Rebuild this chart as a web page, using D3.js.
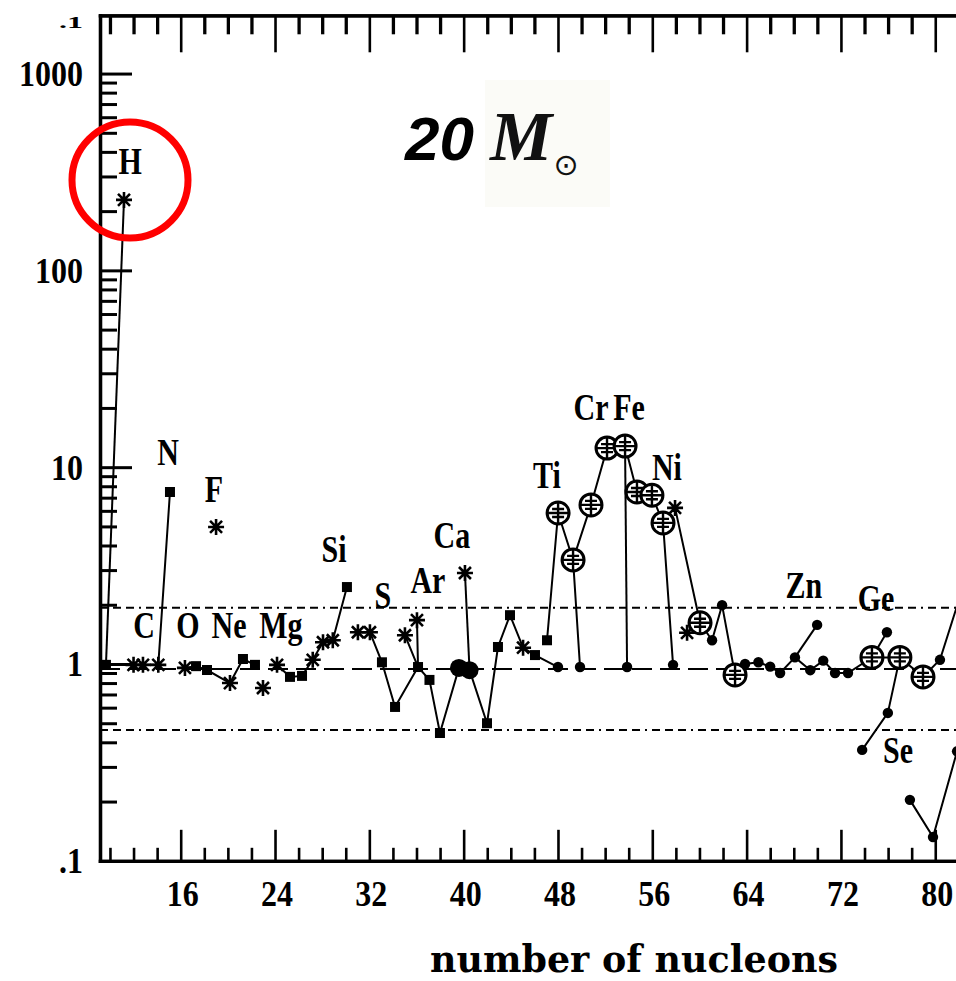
<!DOCTYPE html>
<html>
<head>
<meta charset="utf-8">
<script src="https://cdn.jsdelivr.net/npm/d3@7"></script>
<style>
  html, body { margin: 0; padding: 0; background: #fff; }
  svg { display: block; }
</style>
</head>
<body>
<svg id="chart" width="956" height="981"></svg>
<script>
// Isotopic production factors, 20 solar-mass model
const massNumber = [
  9.66, 11.19, 12.0, 12.8, 14.1, 15.09, 16.36, 17.3, 18.23, 19.0,
  20.18, 21.28, 22.3, 22.98, 24.17, 25.27, 26.29, 27.2, 28.07, 28.9,
  30.1, 31.03, 32.05, 33.07, 34.18, 35.02, 36.04, 36.13, 37.1, 37.99,
  39.6, 40.11, 40.5, 41.98, 42.91, 43.93, 45.04, 46.05, 47.07, 48.01,
  48.0, 49.28, 49.87, 50.8, 52.16, 53.69, 53.86, 54.7, 55.97, 56.91,
  57.76, 57.93, 58.95, 60.05, 61.07, 61.92, 63.02, 63.87, 65.0, 66.0,
  66.84, 68.1, 69.98, 69.4, 70.5, 71.5, 72.6, 74.63, 75.9, 77.0,
  75.98, 73.8, 78.96, 80.4, 82.3, 77.85, 79.81, 81.85, 82.2
];
const productionFactor = [
  0.99, 228, 0.99, 0.99, 0.99, 7.48, 0.955, 0.975, 0.932, 4.97,
  0.80, 1.06, 0.99, 0.755, 0.99, 0.86, 0.87, 1.05, 1.29, 1.32,
  2.46, 1.45, 1.45, 1.02, 0.605, 1.40, 1.67, 0.965, 0.83, 0.446,
  0.955, 2.90, 0.93, 0.50, 1.22, 1.77, 1.21, 1.11, 1.32, 5.85,
  0.965, 3.38, 0.965, 6.43, 12.5, 12.8, 0.965, 7.48, 7.2, 5.21,
  0.99, 6.21, 1.44, 1.62, 1.32, 1.99, 0.88, 1.00, 1.02, 0.97,
  0.90, 1.08, 1.58, 0.93, 1.04, 0.90, 0.90, 1.08, 1.45, 1.08,
  0.564, 0.366, 0.86, 1.05, 2.4, 0.204, 0.132, 0.36, 2.0
];
// sq = filled square, dot = filled circle, big = large filled circle,
// ast = asterisk, oplus = open circle with cross
const markerKind = [
  "sq", "ast", "ast", "ast", "ast", "sq", "ast", "sq", "sq", "ast",
  "ast", "sq", "sq", "ast", "ast", "sq", "sq", "ast", "ast", "ast",
  "sq", "ast", "ast", "sq", "sq", "ast", "ast", "sq", "sq", "sq",
  "big", "ast", "big", "sq", "sq", "sq", "ast", "sq", "sq", "oplus",
  "dot", "oplus", "dot", "oplus", "oplus", "oplus", "dot", "oplus", "oplus", "oplus",
  "dot", "ast", "ast", "oplus", "dot", "dot", "oplus", "dot", "dot", "dot",
  "dot", "dot", "dot", "dot", "dot", "dot", "dot", "oplus", "dot", "oplus",
  "dot", "dot", "oplus", "dot", "dot", "dot", "dot", "dot", "dot"
];
// Point indices joined by connecting lines
const isotopeChains = [
  [1, 0], [0, 2, 3, 4, 5], [6, 7, 8, 10, 11, 12],
  [14, 15, 16, 17, 18, 19, 20], [21, 22, 23, 24, 27], [26, 27, 25],
  [27, 28, 29, 30, 32, 33, 34, 35, 36, 37, 40], [31, 32],
  [38, 39, 41, 42], [41, 43, 44, 45], [45, 46], [45, 47, 48, 49, 50],
  [51, 53, 54, 55, 56, 57, 58, 59, 60, 61, 63, 64, 65, 66, 67, 69, 72, 73, 74],
  [61, 62], [67, 68], [69, 70, 71], [75, 76, 77, 78]
];

const elementNames = ["H", "N", "F", "C", "O", "Ne", "Mg", "Si", "S", "Ar", "Ca",
                      "Ti", "Cr", "Fe", "Ni", "Zn", "Ge", "Se"];
const elementLabelA = [11.71, 14.92, 18.82, 12.89, 16.62, 20.1, 24.5, 29.0, 33.15, 36.97, 39.0,
                       47.06, 50.8, 54.02, 57.24, 68.86, 74.97, 76.84];
const elementLabelFactor = [309, 10.26, 6.66, 1.355, 1.355, 1.355, 1.355, 3.30, 1.93, 2.29, 3.88,
                            7.84, 17.4, 17.4, 8.61, 2.165, 1.86, 0.314];

const referenceLevels = [1.93, 0.943, 0.462];
const referenceDash = ["8,5,8,5,8,5,2,5", "20,8", "8,5,8,5,8,5,2,5"];

const xMajorTicks = [16, 24, 32, 40, 48, 56, 64, 72, 80];
const xMinorTicks = d3.range(10, 82, 2).filter(v => !xMajorTicks.includes(v));
const yMajorTicks = [1, 10, 100, 1000];
const yMinorTicks = [0.1, 1, 10, 100].flatMap(d => d3.range(2, 10).map(k => +(k * d).toPrecision(3)));
const yLabelValues = [1000, 100, 10, 1, 0.1];
const yLabelTexts = ["1000", "100", "10", "1", ".1"];
const yTopEdgeLabel = ".1";

const svg = d3.select("#chart");

const x = d3.scaleLinear().domain([9.155, 81.76]).range([100, 956]);
const y = d3.scaleLog().domain([0.1, 1977]).range([860.8, 15.3]);

const [plotLeft, plotRight] = x.range();
const [plotBottom, plotTop] = y.range();

const defs = svg.append("defs");
defs.append("clipPath").attr("id", "plotClip").append("rect")
  .attr("x", plotLeft).attr("y", plotTop)
  .attr("width", plotRight - plotLeft).attr("height", plotBottom - plotTop);

// faint panel behind the mass symbol
svg.append("rect").attr("x", 485).attr("y", 80).attr("width", 125).attr("height", 127)
  .attr("fill", "#fbfbf7");

// reference levels
svg.append("g").attr("clip-path", "url(#plotClip)")
  .selectAll("line").data(referenceLevels).join("line")
  .attr("x1", plotLeft).attr("x2", plotRight)
  .attr("y1", d => y(d)).attr("y2", d => y(d))
  .attr("stroke", "#000").attr("stroke-width", 2)
  .attr("stroke-dasharray", (d, i) => referenceDash[i]);

// axes
function styleAxis(g, tickWidth) {
  g.select(".domain").attr("stroke-width", 3.3).attr("stroke-linecap", "square");
  g.selectAll(".tick line").attr("stroke-width", tickWidth);
  g.selectAll(".tick text").remove();
}
svg.append("g").attr("transform", `translate(0,${plotBottom})`)
  .call(d3.axisBottom(x).tickValues(xMinorTicks).tickSizeInner(-13).tickSizeOuter(0).tickFormat(""))
  .call(g => styleAxis(g, 2.6));
svg.append("g").attr("transform", `translate(0,${plotBottom})`)
  .call(d3.axisBottom(x).tickValues(xMajorTicks).tickSizeInner(-31).tickSizeOuter(0).tickFormat(""))
  .call(g => styleAxis(g, 2.6));
svg.append("g").attr("transform", `translate(0,${plotTop})`)
  .call(d3.axisTop(x).tickValues(xMinorTicks).tickSizeInner(-19).tickSizeOuter(0).tickFormat(""))
  .call(g => styleAxis(g, 3.3));
svg.append("g").attr("transform", `translate(0,${plotTop})`)
  .call(d3.axisTop(x).tickValues(xMajorTicks).tickSizeInner(-37).tickSizeOuter(0).tickFormat(""))
  .call(g => styleAxis(g, 2.6));
svg.append("g").attr("transform", `translate(${plotLeft},0)`)
  .call(d3.axisLeft(y).tickValues(yMinorTicks).tickSizeInner(-17).tickSizeOuter(0).tickFormat(""))
  .call(g => styleAxis(g, 3));
svg.append("g").attr("transform", `translate(${plotLeft},0)`)
  .call(d3.axisLeft(y).tickValues(yMajorTicks).tickSizeInner(-32).tickSizeOuter(0).tickFormat(""))
  .call(g => styleAxis(g, 3));

// tick labels (tall bold serif)
const tickFont = "'Liberation Serif', 'Times New Roman', serif";
svg.append("g").selectAll("text").data(yLabelValues).join("text")
  .attr("transform", d => `translate(83,${y(d) + 12.4}) scale(1,1.15)`)
  .attr("text-anchor", "end")
  .attr("font-family", tickFont).attr("font-weight", "bold").attr("font-size", 32)
  .text((d, i) => yLabelTexts[i]);
// squat label at the top edge of the axis
svg.append("text")
  .attr("transform", `translate(83,${plotTop + 13}) scale(1,0.55)`)
  .attr("text-anchor", "end")
  .attr("font-family", tickFont).attr("font-weight", "bold").attr("font-size", 32)
  .text(yTopEdgeLabel);
svg.append("g").selectAll("text").data(xMajorTicks).join("text")
  .attr("transform", d => `translate(${x(d) + 2},906) scale(1,1.15)`)
  .attr("text-anchor", "middle")
  .attr("font-family", tickFont).attr("font-weight", "bold").attr("font-size", 32)
  .text(d => d);

// axis title
svg.append("text")
  .attr("x", 430).attr("y", 972)
  .attr("font-family", "'DejaVu Serif', serif").attr("font-weight", "bold").attr("font-size", 38)
  .attr("textLength", 408).attr("lengthAdjust", "spacingAndGlyphs")
  .text("number of nucleons");

// data
const pts = massNumber.map((a, i) => ({ a, f: productionFactor[i], kind: markerKind[i] }));
const plot = svg.append("g").attr("clip-path", "url(#plotClip)");

const line = d3.line().x(d => x(d.a)).y(d => y(d.f));
plot.append("g").selectAll("path").data(isotopeChains).join("path")
  .attr("d", c => line(c.map(i => pts[i])))
  .attr("fill", "none").attr("stroke", "#000").attr("stroke-width", 2);

const markG = plot.append("g");
const byKind = k => pts.filter(p => p.kind === k);

markG.selectAll("rect.sq").data(byKind("sq")).join("rect").attr("class", "sq")
  .attr("x", d => x(d.a) - 5).attr("y", d => y(d.f) - 5)
  .attr("width", 10).attr("height", 10).attr("fill", "#000");
markG.selectAll("circle.dot").data(byKind("dot")).join("circle").attr("class", "dot")
  .attr("cx", d => x(d.a)).attr("cy", d => y(d.f)).attr("r", 5.2).attr("fill", "#000");
markG.selectAll("circle.big").data(byKind("big")).join("circle").attr("class", "big")
  .attr("cx", d => x(d.a)).attr("cy", d => y(d.f)).attr("r", 9).attr("fill", "#000");
markG.selectAll("path.ast").data(byKind("ast")).join("path").attr("class", "ast")
  .attr("transform", d => `translate(${x(d.a)},${y(d.f)})`)
  .attr("d", "M-8,0H8M0,-8V8M-6,-6L6,6M-6,6L6,-6")
  .attr("fill", "none").attr("stroke", "#000").attr("stroke-width", 2.6);
const oplus = markG.selectAll("g.oplus").data(byKind("oplus")).join("g").attr("class", "oplus")
  .attr("transform", d => `translate(${x(d.a)},${y(d.f)})`);
oplus.append("circle").attr("r", 11).attr("fill", "#fff").attr("stroke", "#000").attr("stroke-width", 3);
oplus.append("path").attr("d", "M-10,0H10M0,-10V10M-6,-4H6M-6,4H6")
  .attr("stroke", "#000").attr("stroke-width", 2.4);

// element labels
svg.append("g").selectAll("text").data(elementNames).join("text")
  .attr("transform", (d, i) => `translate(${x(elementLabelA[i])},${y(elementLabelFactor[i])}) scale(1,1.25)`)
  .attr("text-anchor", "middle")
  .attr("font-family", tickFont).attr("font-weight", "bold").attr("font-size", 30)
  .text(d => d);

// stellar mass annotation
svg.append("text").attr("x", 405).attr("y", 160)
  .attr("font-family", "'Liberation Sans', Arial, sans-serif").attr("font-weight", "bold")
  .attr("font-style", "italic").attr("font-size", 62).text("20");
svg.append("text").attr("x", 490).attr("y", 160)
  .attr("font-family", "'Liberation Serif', 'Times New Roman', serif").attr("font-weight", "bold")
  .attr("font-style", "italic").attr("font-size", 70).attr("fill", "#111").text("M");
svg.append("text").attr("x", 566).attr("y", 175)
  .attr("text-anchor", "middle")
  .attr("font-family", "'DejaVu Sans', sans-serif").attr("font-size", 30).attr("fill", "#111").text("⊙");

// highlight ring around hydrogen
svg.append("circle").attr("cx", 130).attr("cy", 180).attr("r", 58)
  .attr("fill", "none").attr("stroke", "#ff0000").attr("stroke-width", 7);
</script>
</body>
</html>
